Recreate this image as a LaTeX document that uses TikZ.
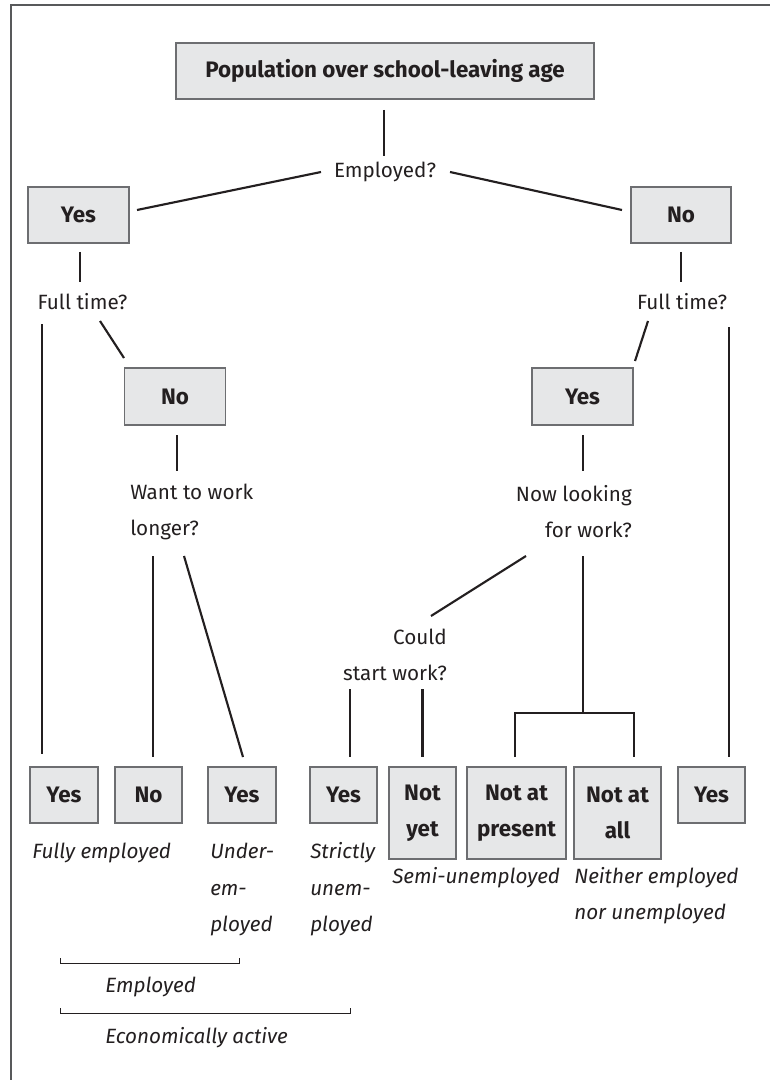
\documentclass[tikz,border=0pt]{standalone}
\usepackage{fontspec}
\setmainfont{Fira Sans}
\usetikzlibrary{calc}
\definecolor{ink}{HTML}{231F20}
\definecolor{boxfill}{HTML}{E6E7E8}
\definecolor{boxline}{HTML}{6D6E71}
\definecolor{framecol}{HTML}{58595B}

\begin{document}
\begin{tikzpicture}[x=0.75pt,y=-0.75pt,
  text=ink,
  font=\fontsize{15.5}{27}\selectfont,
  wh/.style 2 args={minimum width={#1*0.75pt}, minimum height={#2*0.75pt}},
  box/.style={draw=boxline, fill=boxfill, line width=0.8pt, inner sep=0pt,
    align=center, font=\fontsize{16.8}{27}\selectfont\bfseries},
  ask/.style={inner sep=0pt, align=center},
  note/.style={inner sep=0pt, align=left, font=\fontsize{15.5}{27.4}\selectfont\itshape},
  link/.style={draw=ink, line width=1.6pt},
  brace/.style={draw=ink, line width=0.75pt}
]
\useasboundingbox (0,0) rectangle (769,1080);

% frame
\draw[framecol, line width=1.5pt] (11,1081) -- (11,5) -- (770,5);

% top of the tree
\node[box, wh={418}{56}] (pop) at (385,71) {Population over school-leaving age};
\node[ask] (q1) at (385,172) {Employed?};
\node[box, wh={101}{56}] (yes1) at (78.5,215) {Yes};
\node[box, wh={100}{56}] (no1) at (681,215) {No};
\node[ask] (q2) at (82.5,302) {Full time?};
\node[ask] (q3) at (682,302) {Full time?};
\node[box, wh={101}{57}] (no2) at (175,396.5) {No};
\node[box, wh={101}{57}] (yes2) at (582.5,396.5) {Yes};
\node[ask, align=left, anchor=west] (q4) at (130,511.5) {Want to work\\longer?};
\node[ask, align=right, anchor=east] (q5) at (632,511.5) {Now looking\\for work?};
\node[ask, align=right, anchor=east] (q6) at (447,654.5) {Could\\start work?};

% outcome boxes
\node[box, wh={68}{56}] (b1) at (64,795) {Yes};
\node[box, wh={67}{56}] (b2) at (148.5,795) {No};
\node[box, wh={68}{56}] (b3) at (242,795) {Yes};
\node[box, wh={67}{56}] (b4) at (343.5,795) {Yes};
\node[box, wh={67}{92}] (b5) at (422.5,813) {Not\\yet};
\node[box, wh={99}{92}] (b6) at (516.5,813) {Not at\\present};
\node[box, wh={87}{92}] (b7) at (617.5,813) {Not at\\all};
\node[box, wh={67}{56}] (b8) at (711.5,795) {Yes};

% outcome labels
\node[note, anchor=west] (n1) at (32,853) {Fully employed};
\node[note, anchor=west] (n2) at (210,889.5) {Under-\\em-\\ployed};
\node[note, anchor=west] (n3) at (310,889.5) {Strictly\\unem-\\ployed};
\node[note, anchor=west] (n4) at (392,878) {Semi-unemployed};
\node[note, anchor=west] (n5) at (574,895.5) {Neither employed\\nor unemployed};
\node[note, anchor=west] (g1) at (105,987) {Employed};
\node[note, anchor=west] (g2) at (105,1038) {Economically active};

% connectors
\draw[link] ([shift={(-1,39)}]pop.center) -- ([shift={(-1,-16)}]q1.center);
\draw[link] ([shift={(-64,0)}]q1.center) -- ([shift={(58.5,-5)}]yes1.center);
\draw[link] ([shift={(65,0)}]q1.center) -- ([shift={(-59,-5)}]no1.center);
\draw[link] ([shift={(1.5,37)}]yes1.center) -- ([shift={(-2.5,-20)}]q2.center);
\draw[link] ([shift={(0,37)}]no1.center) -- ([shift={(-1,-20)}]q3.center);
\draw[link] ([shift={(-40.5,22)}]q2.center) -- ([shift={(-22,-41)}]b1.center);
\draw[link] ([shift={(17.5,19)}]q2.center) -- ([shift={(-51,-38.5)}]no2.center);
\draw[link] ([shift={(-34,19)}]q3.center) -- ([shift={(52.5,-35.5)}]yes2.center);
\draw[link] ([shift={(47,25)}]q3.center) -- ([shift={(17.5,-38)}]b8.center);
\draw[link] ([shift={(2,38.5)}]no2.center) -- ([shift={(47,-40.5)}]q4.west);
\draw[link] ([shift={(0.5,38.5)}]yes2.center) -- ([shift={(-49,-40.5)}]q5.east);
\draw[link] ([shift={(23,44.5)}]q4.west) -- ([shift={(4.5,-38)}]b2.center);
\draw[link] ([shift={(54,44.5)}]q4.west) -- ([shift={(1,-38)}]b3.center);
\draw[link] ([shift={(-106,44.5)}]q5.east) -- ([shift={(-16,-38.5)}]q6.east);
\draw[link] ([shift={(-97,34.5)}]q6.east) -- ([shift={(6.5,-38)}]b4.center);
\draw[link] ([shift={(-24.5,34.5)}]q6.east) -- ([shift={(0,-56)}]b5.center);

% fork to "Not at present" and "Not at all"
\coordinate (fork) at ([shift={(-49,201.5)}]q5.east);
\coordinate (f6) at ([shift={(-1.5,-56)}]b6.center);
\coordinate (f7) at ([shift={(16.5,-56)}]b7.center);
\draw[link] ([shift={(-49,44.5)}]q5.east) -- (fork);
\draw[link, line join=miter] (f6) -- (f6 |- fork) -- (f7 |- fork) -- (f7);

% group brackets
\draw[brace] ([shift={(-45,-29)}]g1.west) -- ++(0,5) -- ++(179,0) -- ++(0,-5);
\draw[brace] ([shift={(-45,-30)}]g2.west) -- ++(0,5) -- ++(290,0) -- ++(0,-5);
\end{tikzpicture}
\end{document}
